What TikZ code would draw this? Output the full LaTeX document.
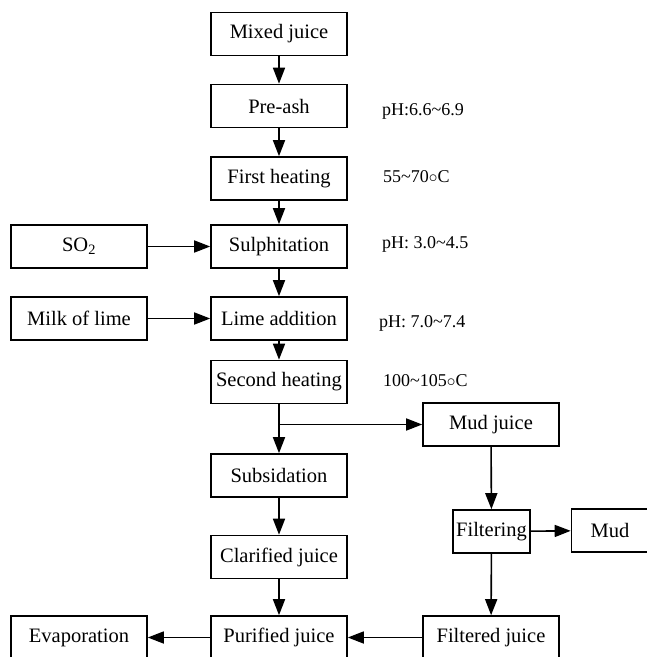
\documentclass[tikz,border=0pt]{standalone}
\usepackage{fontspec}
\setmainfont{Liberation Serif}
\usetikzlibrary{arrows.meta}
\begin{document}
\begin{tikzpicture}[x=1pt,y=-1pt,
  box/.style={draw, line width=1.6pt, minimum width=136pt, minimum height=43pt, inner sep=0pt, font=\fontsize{20.5}{24}\selectfont},
  nbox/.style={box, minimum width=77pt},
  lbl/.style={anchor=base west, inner sep=0pt, font=\fontsize{18}{22}\selectfont},
  arr/.style={line width=1.6pt, -{Triangle[length=16pt,width=12pt]}}]
\clip (0,0) rectangle (647,657);
\useasboundingbox (0,0) rectangle (647,657);
% main column
\node[box] (mix) at (279,34) {Mixed juice};
\node[box] (pre) at (279,106) {Pre-ash};
\node[box] (fh) at (279,178.5) {First heating};
\node[box] (sul) at (279,246.5) {Sulphitation};
\node[box] (lime) at (279,318.5) {Lime addition};
\node[box] (sh) at (279,382) {Second heating};
\node[box] (sub) at (279,475.5) {Subsidation};
\node[box] (cla) at (279,557) {Clarified juice};
\node[box] (pur) at (279,637.5) {Purified juice};
% left column
\node[box] (so2) at (79,246.5) {SO\textsubscript{2}};
\node[box] (milk) at (79,318.5) {Milk of lime};
\node[box] (eva) at (79,637.5) {Evaporation};
% right column
\node[box] (mudj) at (491,424.5) {Mud juice};
\node[nbox] (filt) at (491.5,531.5) {Filtering};
\node[nbox] (mud) at (610,530.5) {Mud};
\node[box] (filj) at (491,637.5) {Filtered juice};
% labels
\node[lbl] (l1) at (382,115) {pH:6.6\textasciitilde6.9};
\node[lbl] (l2) at (383,182) {55\textasciitilde70\ensuremath{\circ}C};
\node[lbl] (l3) at (382,248) {pH: 3.0\textasciitilde4.5};
\node[lbl] (l4) at (379,327) {pH: 7.0\textasciitilde7.4};
\node[lbl] (l5) at (383,386) {100\textasciitilde105\ensuremath{\circ}C};
% connectors
\draw[arr] (mix) -- (pre);
\draw[arr] (pre) -- (fh);
\draw[arr] (fh) -- (sul);
\draw[arr] (sul) -- (lime);
\draw[arr] (lime) -- (sh);
\draw[arr] (sh) -- (sub);
\coordinate (br) at (279,424.5);
\draw[arr] (br) -- (mudj);
\draw[arr] (sub) -- (cla);
\draw[arr] (cla) -- (pur);
\draw[arr] (so2) -- (sul);
\draw[arr] (milk) -- (lime);
\draw[arr] (mudj) -- (filt);
\draw[arr] (filt) -- (mud);
\draw[arr] (filt) -- (filj);
\draw[arr] (filj) -- (pur);
\draw[arr] (pur) -- (eva);
\end{tikzpicture}
\end{document}
